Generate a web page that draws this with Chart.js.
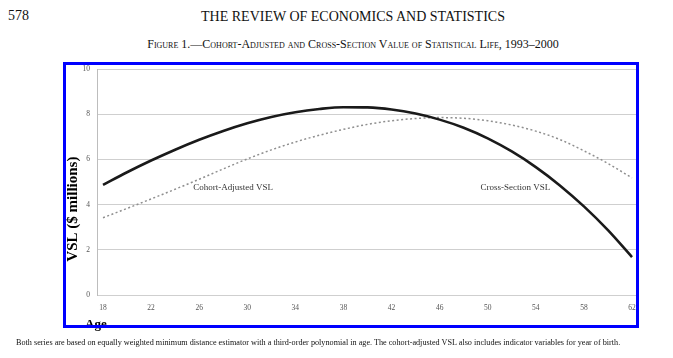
<!DOCTYPE html>
<html>
<head>
<meta charset="utf-8">
<script src="https://cdn.jsdelivr.net/npm/chart.js@4"></script>
<style>
  html, body { margin: 0; padding: 0; background: #fff; }
  body { width: 673px; height: 358px; position: relative; overflow: hidden; font-family: "Liberation Serif", "DejaVu Serif", serif; color: #111; }
  #page { position: absolute; left: 8px; top: 8px; font-size: 14px; }
  #journal { position: absolute; left: 0; width: 706px; top: 9px; text-align: center; font-size: 14px; }
  #caption { position: absolute; left: 0; width: 706px; top: 37px; text-align: center; font-size: 12px; font-variant: small-caps; }
  #note { position: absolute; left: 16px; top: 338px; font-size: 8.2px; white-space: nowrap; }
  #box { position: absolute; left: 63px; top: 62px; width: 576px; height: 266px; border: 3px solid #0000ff; box-sizing: border-box; pointer-events: none; }
  canvas { position: absolute; left: 0; top: 0; }
</style>
</head>
<body>
<div id="page">578</div>
<div id="journal">THE REVIEW OF ECONOMICS AND STATISTICS</div>
<div id="caption">Figure 1.—Cohort-Adjusted and Cross-Section Value of Statistical Life, 1993–2000</div>
<canvas id="vslChart" width="673" height="358"></canvas>
<div id="box"></div>
<div id="note">Both series are based on equally weighted minimum distance estimator with a third-order polynomial in age. The cohort-adjusted VSL also includes indicator variables for year of birth.</div>

<script>
//-------------
//- DATA
//-------------
var ages = [18, 20, 22, 24, 26, 28, 30, 32, 34, 36, 38, 40, 42, 44, 46, 48, 50, 52, 54, 56, 58, 60, 62];
var crossSectionVSL = [4.87, 5.43, 5.95, 6.43, 6.87, 7.26, 7.60, 7.88, 8.09, 8.23, 8.31, 8.30, 8.21, 8.03, 7.76, 7.40, 6.93, 6.35, 5.66, 4.85, 3.92, 2.87, 1.68];
var cohortAdjustedVSL = [3.42, 3.83, 4.25, 4.68, 5.12, 5.58, 6.02, 6.42, 6.77, 7.07, 7.33, 7.55, 7.71, 7.81, 7.85, 7.82, 7.71, 7.52, 7.25, 6.88, 6.38, 5.82, 5.18];
var ageTicks = [18, 22, 26, 30, 34, 38, 42, 46, 50, 54, 58, 62];
var vslTicks = [0, 2, 4, 6, 8, 10];

// in-plot series labels, placed in data units
var seriesLabels = [
    { text: "Cohort-Adjusted VSL", age: 25.5, vsl: 4.75 },
    { text: "Cross-Section VSL", age: 49.4, vsl: 4.75 }
];

var SERIF = '"Liberation Serif", "DejaVu Serif", serif';

function toPoints(xs, ys) {
    var pts = [];
    for (var i = 0; i < xs.length; i++) {
        pts.push({ x: xs[i], y: ys[i] });
    }
    return pts;
}

// draws the in-plot labels and the two axis titles
var annotatePlugin = {
    id: "annotate",
    afterDraw: function (chart) {
        var ctx = chart.ctx;
        var x = chart.scales.x, y = chart.scales.y;
        var area = chart.chartArea;
        ctx.save();
        ctx.fillStyle = "#333";
        ctx.font = "9px " + SERIF;
        ctx.textBaseline = "middle";
        ctx.textAlign = "left";
        seriesLabels.forEach(function (l) {
            ctx.fillText(l.text, x.getPixelForValue(l.age), y.getPixelForValue(l.vsl));
        });

        ctx.fillStyle = "#000";
        ctx.font = "bold 13px " + SERIF;
        ctx.textBaseline = "alphabetic";
        ctx.fillText("Age", area.left - 12, area.bottom + 33);

        ctx.font = "bold 15px " + SERIF;
        ctx.translate(area.left - 20, y.getPixelForValue(3.8));
        ctx.rotate(-Math.PI / 2);
        ctx.textAlign = "center";
        ctx.fillText("VSL ($ millions)", 0, 0);
        ctx.restore();
    }
};

var ctx = document.getElementById("vslChart").getContext("2d");
var chart = new Chart(ctx, {
    type: "line",
    data: {
        datasets: [
            {
                label: "Cross-Section VSL",
                data: toPoints(ages, crossSectionVSL),
                borderColor: "#1a1a1a",
                borderWidth: 2.6,
                pointRadius: 0,
                tension: 0.4,
                cubicInterpolationMode: "monotone",
                fill: false
            },
            {
                label: "Cohort-Adjusted VSL",
                data: toPoints(ages, cohortAdjustedVSL),
                borderColor: "#8f8f8f",
                borderWidth: 1.5,
                borderDash: [2, 2.5],
                pointRadius: 0,
                tension: 0.4,
                cubicInterpolationMode: "monotone",
                fill: false
            }
        ]
    },
    options: {
        responsive: false,
        animation: false,
        events: [],
        layout: { padding: { left: 66, top: 69, right: 35, bottom: 43 } },
        plugins: {
            legend: { display: false },
            tooltip: { enabled: false },
            title: { display: false }
        },
        scales: {
            x: {
                type: "linear",
                min: 17.5,
                max: 62.5,
                afterBuildTicks: function (scale) {
                    scale.ticks = ageTicks.map(function (v) { return { value: v }; });
                },
                afterFit: function (scale) { scale.height = 20; },
                grid: { display: false, drawTicks: false },
                border: { display: false },
                ticks: {
                    padding: 9,
                    maxRotation: 0,
                    autoSkip: false,
                    color: "#555",
                    font: { family: SERIF, size: 7.5 }
                }
            },
            y: {
                min: 0,
                max: 10,
                afterBuildTicks: function (scale) {
                    scale.ticks = vslTicks.map(function (v) { return { value: v }; });
                },
                afterFit: function (scale) { scale.width = 31; },
                grid: { color: "#cfcfcf", lineWidth: 1, drawTicks: false },
                border: { display: true, color: "#bdbdbd", width: 1 },
                ticks: {
                    padding: 7,
                    color: "#555",
                    font: { family: SERIF, size: 7.5 }
                }
            }
        }
    },
    plugins: [annotatePlugin]
});
</script>
</body>
</html>
